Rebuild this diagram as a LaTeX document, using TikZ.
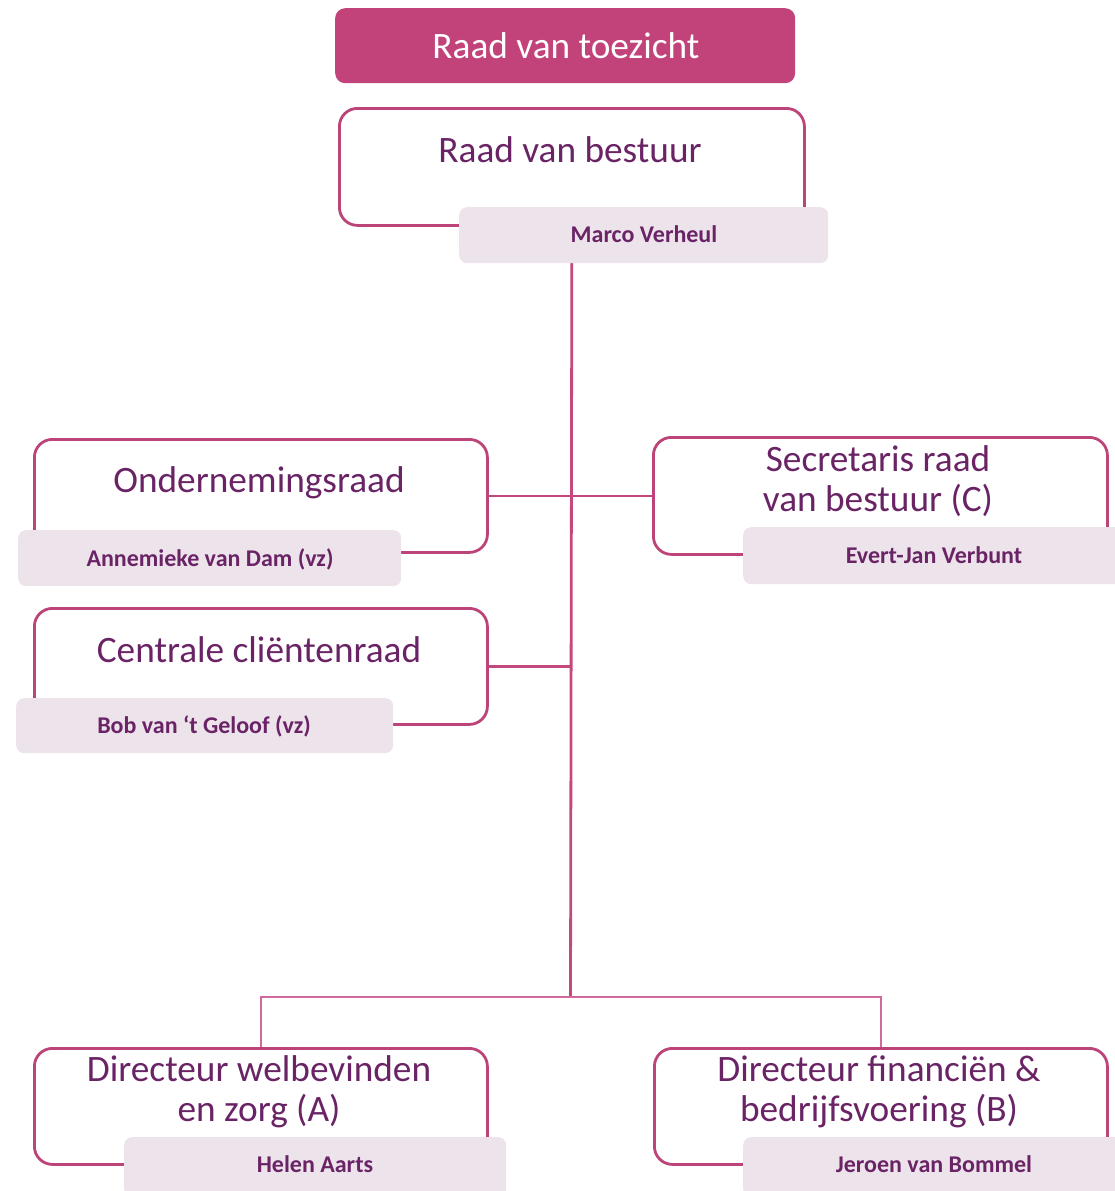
\documentclass[tikz,border=0pt]{standalone}
\usepackage{fontspec}
\setmainfont{Carlito}
\definecolor{titleF}{HTML}{C2437A}
\definecolor{lineC}{HTML}{BC4479}
\definecolor{connC}{HTML}{C4477D}
\definecolor{connL}{HTML}{D2699C}
\definecolor{nameF}{HTML}{EDE3EB}
\definecolor{txtC}{HTML}{6A2466}
\begin{document}
\begin{tikzpicture}[x=1pt,y=-1pt,
  outline/.style={draw=lineC, line width=2.8pt, rounded corners=18pt, fill=white, inner sep=0pt, anchor=north west},
  namebox/.style={fill=nameF, rounded corners=8pt, inner sep=0pt, anchor=north west},
  titlebox/.style={fill=titleF, rounded corners=10pt, inner sep=0pt, anchor=north west},
  bigtxt/.style={font=\fontsize{37.3}{40}\selectfont, text=txtC, anchor=base, inner sep=0pt},
  nametxt/.style={font=\fontsize{24}{26}\selectfont\bfseries, text=txtC, anchor=base, inner sep=0pt},
  conn/.style={draw=connC, line width=2.8pt},
  connl/.style={draw=connL, line width=2.8pt}]
\useasboundingbox (0,0) rectangle (1115,1191);
\clip (0,0) rectangle (1115,1191);

% top title
\node[titlebox, minimum width=460pt, minimum height=75pt] (rvt) at (335,8) {};
\node[bigtxt, text=white] (rvtT) at (566,58) {Raad van toezicht};

% outline boxes
\node[outline, minimum width=465pt, minimum height=117pt] (rvb) at (338,107) {};
\node[outline, minimum width=453pt, minimum height=113pt] (or) at (33,438) {};
\node[outline, minimum width=454pt, minimum height=117pt] (sec) at (652,436) {};
\node[outline, minimum width=453pt, minimum height=116pt] (ccr) at (33,607) {};
\node[outline, minimum width=453pt, minimum height=116pt] (dirA) at (33,1047) {};
\node[outline, minimum width=453pt, minimum height=116pt] (dirB) at (653,1047) {};

% connectors
\coordinate (split) at (570.5,997);
\draw[conn] (rvb.south) -- (split);
\draw[conn] (or.east) -- (sec.west);
\draw[conn] (ccr.east) -- (ccr.east -| rvb.south);
\draw[connl] (split) -| (dirA.north);
\draw[connl] (split) -| (dirB.north);

% name boxes
\node[namebox, minimum width=369pt, minimum height=56pt] (rvbN) at (459,207) {};
\node[namebox, minimum width=383pt, minimum height=56pt] (orN) at (18,530) {};
\node[namebox, minimum width=382pt, minimum height=57pt] (secN) at (743,527) {};
\node[namebox, minimum width=377pt, minimum height=55pt] (ccrN) at (16,698) {};
\node[namebox, minimum width=382pt, minimum height=60pt] (dirAN) at (124,1137) {};
\node[namebox, minimum width=382pt, minimum height=60pt] (dirBN) at (743,1137) {};

% texts
\node[bigtxt] (rvbT) at (570,162) {Raad van bestuur};
\node[nametxt] (rvbNT) at (644,242) {Marco Verheul};
\node[bigtxt] (orT) at (259,492) {Ondernemingsraad};
\node[nametxt] (orNT) at (210,566.5) {Annemieke van Dam (vz)};
\node[bigtxt] (secT1) at (878,471.5) {Secretaris raad};
\node[bigtxt] (secT2) at (878,511) {van bestuur (C)};
\node[nametxt] (secNT) at (934,563) {Evert-Jan Verbunt};
\node[bigtxt] (ccrT) at (259,662) {Centrale cliëntenraad};
\node[nametxt] (ccrNT) at (204,733.5) {Bob van ‘t Geloof (vz)};
\node[bigtxt] (dirAT1) at (259,1081.5) {Directeur welbevinden};
\node[bigtxt] (dirAT2) at (259,1121.5) {en zorg (A)};
\node[nametxt] (dirANT) at (315,1172) {Helen Aarts};
\node[bigtxt] (dirBT1) at (879,1081.5) {Directeur financiën \&};
\node[bigtxt] (dirBT2) at (879,1121.5) {bedrijfsvoering (B)};
\node[nametxt] (dirBNT) at (934,1172) {Jeroen van Bommel};
\end{tikzpicture}
\end{document}
